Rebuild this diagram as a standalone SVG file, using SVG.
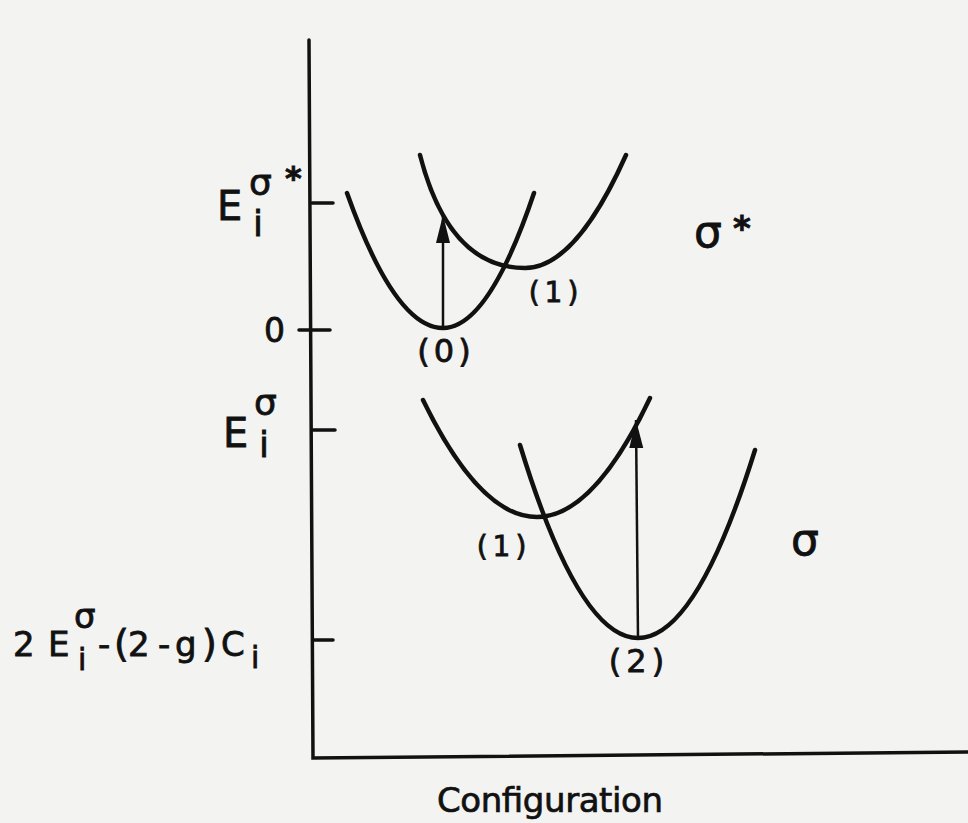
<svg xmlns="http://www.w3.org/2000/svg" width="968" height="823" viewBox="0 0 968 823">
<style>
.ax{stroke:#111;stroke-width:3.5;fill:none;stroke-linecap:round}
.cv{stroke:#111;stroke-width:4.5;fill:none;stroke-linecap:round}
.ar{stroke:#111;stroke-width:2.5;fill:none}
.t{font-family:"DejaVu Sans","Liberation Sans",sans-serif;fill:#111;stroke:#111;stroke-width:0.8}
</style>
<defs>
<marker id="ah" markerUnits="userSpaceOnUse" markerWidth="30" markerHeight="18" refX="28" refY="8" orient="auto">
<path d="M0,1 L28,8 L0,15 Z" fill="#111"/>
</marker>
</defs>
<rect width="968" height="823" fill="#f3f3f1"/>
<g id="axes">
<path class="ax" d="M309,40 L313,758 L968,752"/>
<path class="ax" d="M312,203 L333,203 M299,330 L330,330 M313,430 L335,430 M314,640 L333,640"/>
</g>
<g id="labels-y" class="t">
<text x="217" y="220" font-size="40">E</text>
<text x="253" y="236" font-size="36">i</text>
<text x="249" y="195" font-size="36">σ</text>
<text x="285" y="189" font-size="32" font-weight="bold">*</text>
<text x="264" y="342" font-size="33">0</text>
<text x="223" y="447" font-size="40">E</text>
<text x="259" y="457" font-size="36">i</text>
<text x="254" y="415" font-size="36">σ</text>
<text y="656" font-size="34"><tspan x="13">2</tspan><tspan x="48">E</tspan><tspan x="74" y="628">σ</tspan><tspan x="78" y="670" font-size="30">i</tspan><tspan x="98" y="656">-</tspan><tspan x="114" font-size="38">(</tspan><tspan x="128">2</tspan><tspan x="158">-</tspan><tspan x="175">g</tspan><tspan x="202" font-size="38">)</tspan><tspan x="221">C</tspan><tspan x="251" y="668" font-size="30">i</tspan></text>
</g>
<g id="state-sigma-star">
<path class="cv" d="M347,193 Q395,328 443,328 Q488.5,328 534,193"/>
<path class="cv" d="M420,155 Q449,268 525,268 Q575.5,268 626,155"/>
</g>
<g id="state-sigma">
<path class="cv" d="M423,400 Q480,517 537,517 Q593.5,517 650,398"/>
<path class="cv" d="M520,445 Q579,638 638,638 Q696.5,638 755,450"/>
</g>
<g id="connectors">
<line class="ar" x1="443" y1="328" x2="443" y2="215" marker-end="url(#ah)"/>
<line class="ar" x1="638" y1="638" x2="636" y2="420" marker-end="url(#ah)"/>
</g>
<g id="state-labels" class="t">
<text x="446" y="362" font-size="32" text-anchor="middle" letter-spacing="4">(0)</text>
<text x="556" y="302" font-size="28" text-anchor="middle" letter-spacing="5">(1)</text>
<text x="504" y="556" font-size="28" text-anchor="middle" letter-spacing="5">(1)</text>
<text x="639" y="672" font-size="32" text-anchor="middle" letter-spacing="5">(2)</text>
<text x="694" y="247" font-size="44">σ</text>
<text x="733" y="240" font-size="34" font-weight="bold">*</text>
<text x="791" y="555" font-size="44">σ</text>
</g>
<g id="x-label" class="t">
<text x="437" y="812" font-size="34" stroke-width="0.7" textLength="226" lengthAdjust="spacing">Configuration</text>
</g>
</svg>
